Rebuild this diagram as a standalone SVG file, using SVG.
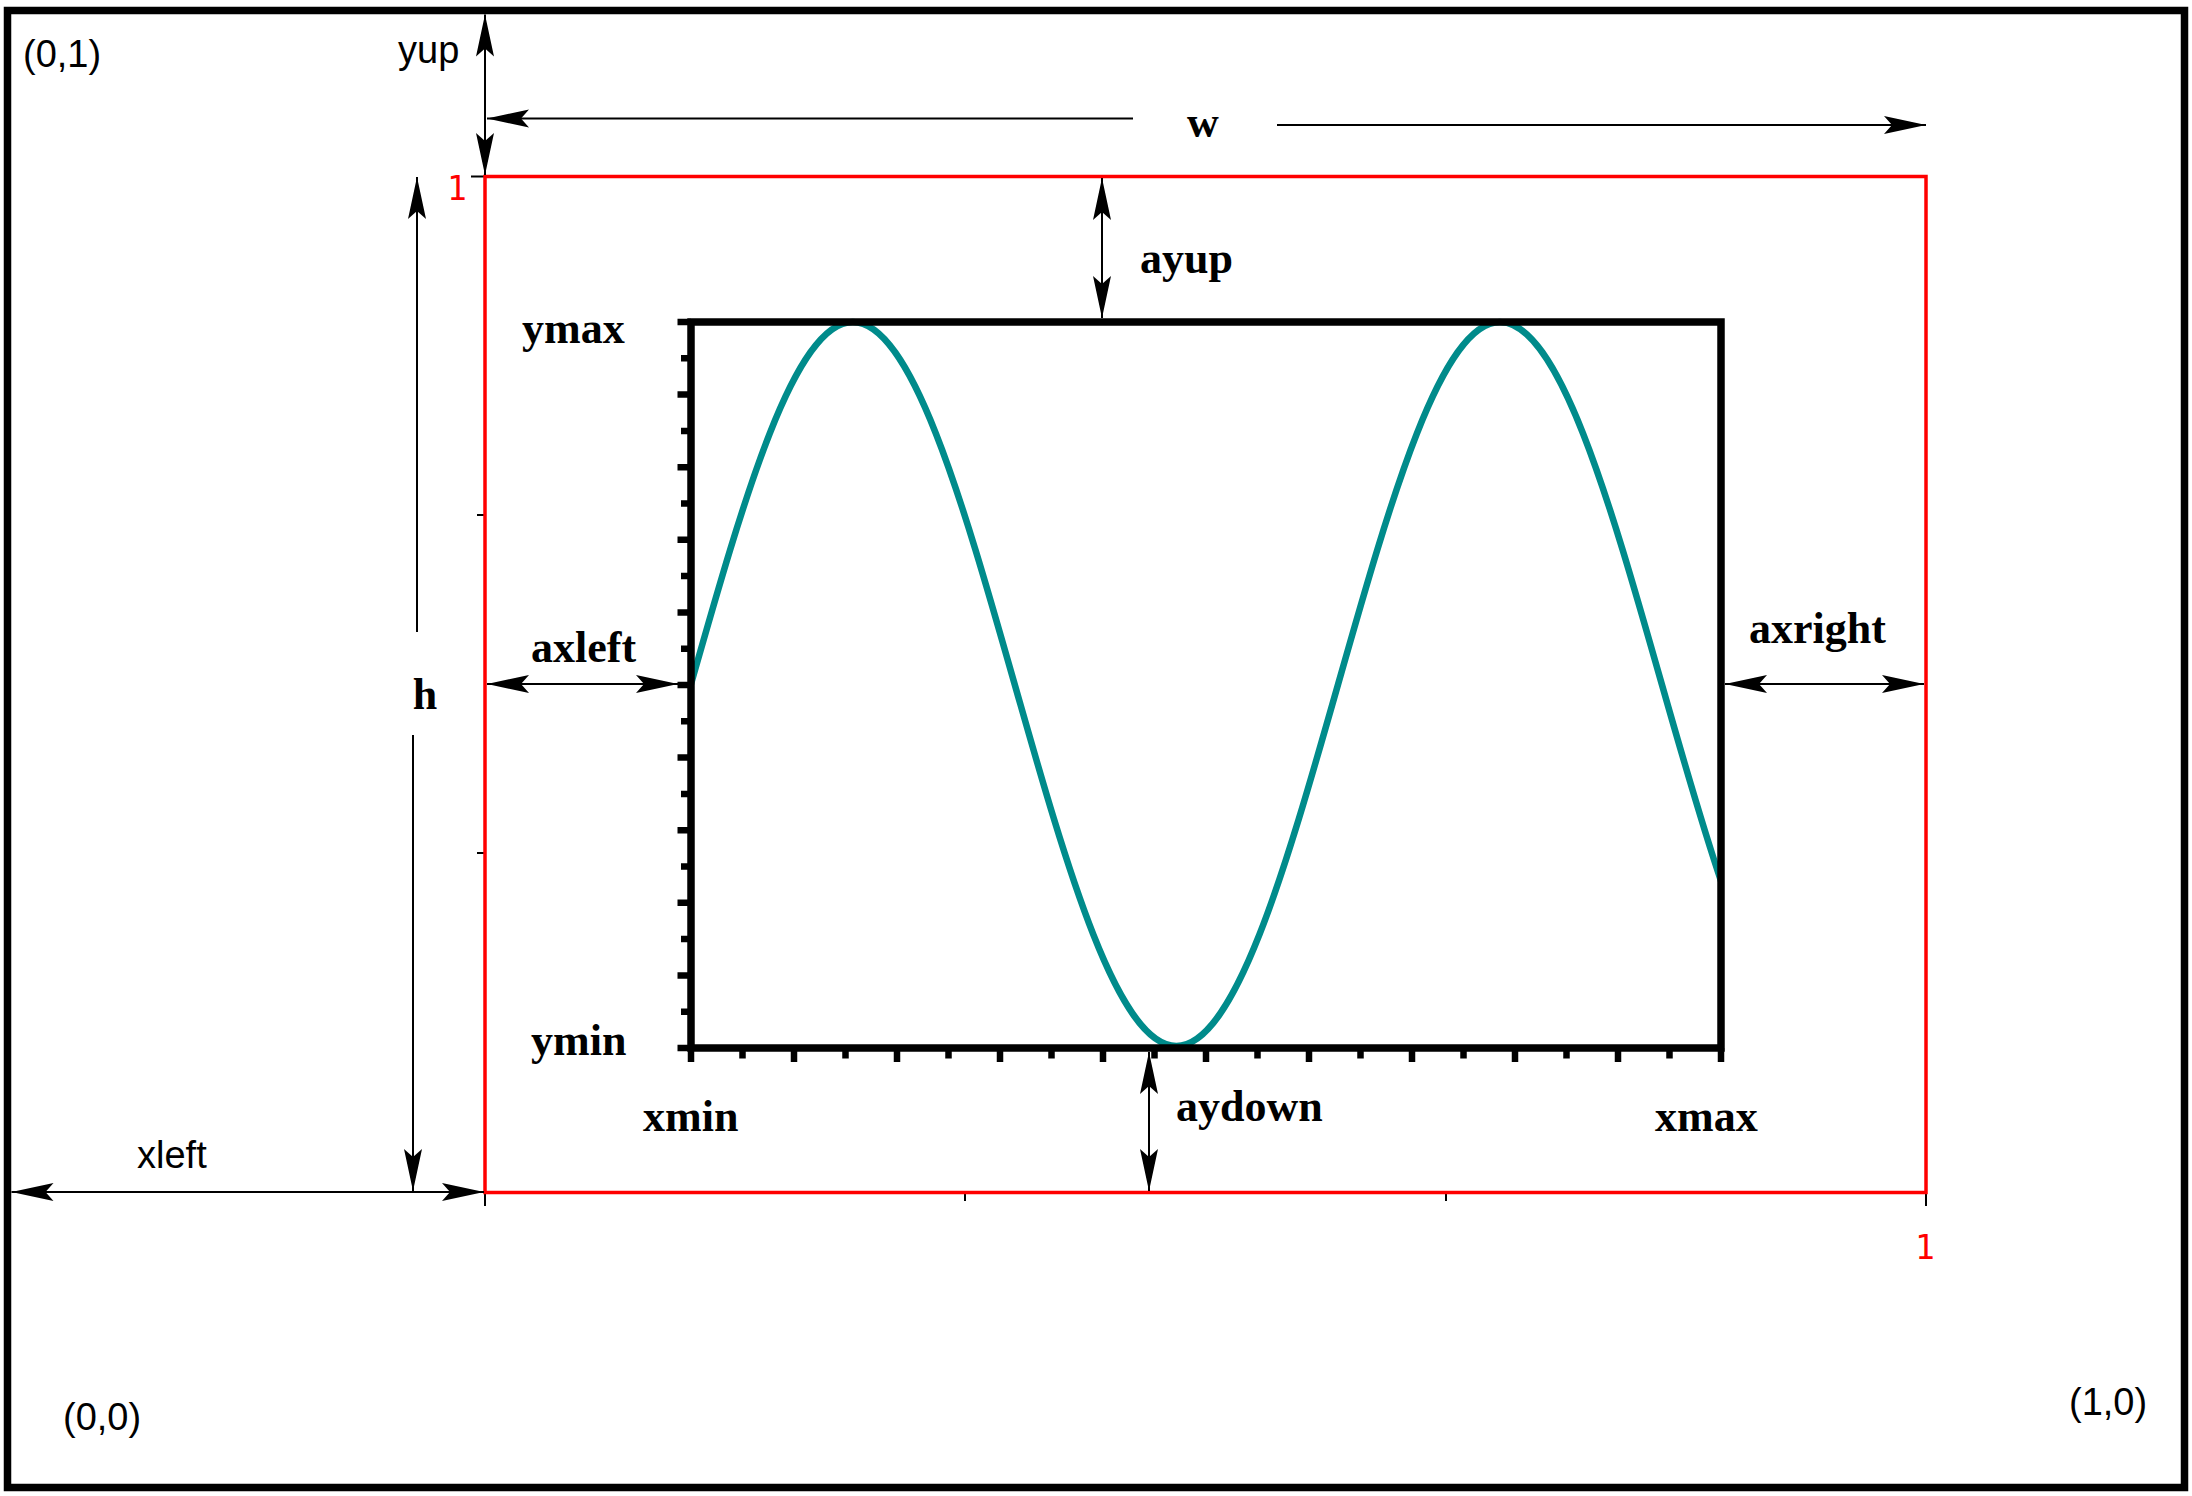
<svg xmlns="http://www.w3.org/2000/svg" width="2192" height="1496" viewBox="0 0 2192 1496">
<style>
.sans{font-family:"Liberation Sans",Arial,sans-serif;font-size:38px;fill:#000}
.lbl{font-family:"Liberation Serif","Times New Roman",serif;font-size:44px;font-weight:bold;fill:#000}
.red1{font-family:"DejaVu Sans Mono","Liberation Mono",monospace;font-size:33px;fill:#ff0000;text-anchor:middle}
.arr{stroke:#000;stroke-width:2;fill:none}
.dbl{marker-start:url(#ah);marker-end:url(#ah)}
.one{marker-end:url(#ah)}
</style>
<defs>
<marker id="ah" markerUnits="userSpaceOnUse" viewBox="-44 -11 46 22" refX="0" refY="0" markerWidth="46" markerHeight="22" orient="auto-start-reverse">
<path d="M0,0 L-42,-9 L-34,0 L-42,9 Z" fill="#000"/>
</marker>
</defs>
<rect width="2192" height="1496" fill="#fff"/>
<g id="frame">
<rect x="7.5" y="10.5" width="2177" height="1477" fill="none" stroke="#000" stroke-width="7.5"/>
</g>
<g id="viewport">
<path d="M485,1192V1206M965,1192V1201M1446,1192V1201M1926,1192V1206M485,176.5H471M485,515H477M485,853H477M485,1192H471" stroke="#000" stroke-width="2" fill="none"/>
<rect x="485" y="176.5" width="1441" height="1016" fill="none" stroke="#ff0000" stroke-width="3.5"/>
<text class="red1" x="457" y="200">1</text>
<text class="red1" x="1925" y="1259">1</text>
</g>
<g id="plot">
<path d="M691,684 C743.77,498.55 794.24,322 852.79,322 C911.34,322 961.81,498.55 1014.58,684 C1067.35,869.45 1117.82,1046 1176.38,1046 C1234.93,1046 1285.4,869.45 1338.17,684 C1390.94,498.55 1441.41,322 1499.96,322 C1558.51,322 1608.98,498.55 1661.75,684 C1681.5,753.41 1701.25,822.69 1721,880.93" fill="none" stroke="#008b8b" stroke-width="6.5"/>
<rect x="691" y="322" width="1030" height="726" fill="none" stroke="#000" stroke-width="7.5"/>
<path stroke="#000" stroke-width="6.5" fill="none" d="M691,322H677.5M691,358.3H681M691,394.6H677.5M691,430.9H681M691,467.2H677.5M691,503.5H681M691,539.8H677.5M691,576.1H681M691,612.4H677.5M691,648.7H681M691,685H677.5M691,721.3H681M691,757.6H677.5M691,793.9H681M691,830.2H677.5M691,866.5H681M691,902.8H677.5M691,939.1H681M691,975.4H677.5M691,1011.7H681M691,1048H677.5
M691,1048V1062M742.5,1048V1058.5M794,1048V1062M845.5,1048V1058.5M897,1048V1062M948.5,1048V1058.5M1000,1048V1062M1051.5,1048V1058.5M1103,1048V1062M1154.5,1048V1058.5M1206,1048V1062M1257.5,1048V1058.5M1309,1048V1062M1360.5,1048V1058.5M1412,1048V1062M1463.5,1048V1058.5M1515,1048V1062M1566.5,1048V1058.5M1618,1048V1062M1669.5,1048V1058.5M1721,1048V1062"/>
</g>
<g id="connectors">
<line class="arr dbl" x1="485" y1="14.5" x2="485" y2="175"/>
<line class="arr one" x1="1133" y1="118.5" x2="487" y2="118.5"/>
<line class="arr one" x1="1277" y1="125" x2="1926" y2="125"/>
<line class="arr one" x1="417" y1="632" x2="417" y2="177"/>
<line class="arr one" x1="413" y1="735" x2="413" y2="1191"/>
<line class="arr dbl" x1="11.5" y1="1192" x2="484" y2="1192"/>
<line class="arr dbl" x1="487" y1="684" x2="678" y2="684"/>
<line class="arr dbl" x1="1725" y1="684" x2="1924" y2="684"/>
<line class="arr dbl" x1="1102" y1="178" x2="1102" y2="318"/>
<line class="arr dbl" x1="1149" y1="1052" x2="1149" y2="1191"/>
</g>
<g id="labels">
<text class="sans" x="23" y="67">(0,1)</text>
<text class="sans" x="398" y="63">yup</text>
<text class="sans" x="137" y="1168">xleft</text>
<text class="sans" x="63" y="1430">(0,0)</text>
<text class="sans" x="2069" y="1415">(1,0)</text>
<text class="lbl" x="1203" y="137" text-anchor="middle">w</text>
<text class="lbl" x="1140" y="273">ayup</text>
<text class="lbl" x="522" y="343">ymax</text>
<text class="lbl" x="531" y="662">axleft</text>
<text class="lbl" x="425" y="709" text-anchor="middle">h</text>
<text class="lbl" x="1749" y="643">axright</text>
<text class="lbl" x="531" y="1055">ymin</text>
<text class="lbl" x="643" y="1131">xmin</text>
<text class="lbl" x="1176" y="1121">aydown</text>
<text class="lbl" x="1655" y="1131">xmax</text>
</g>
</svg>
